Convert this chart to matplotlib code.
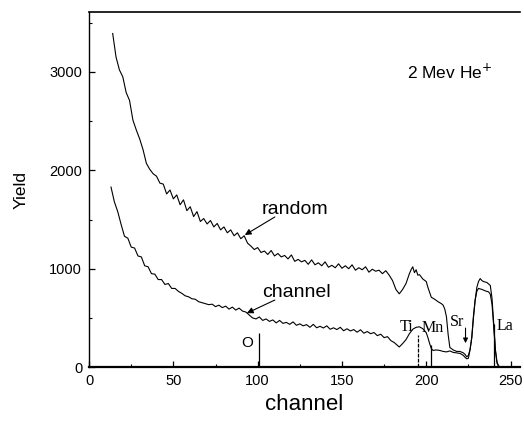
import matplotlib
matplotlib.use("Agg")
import matplotlib.pyplot as plt
from matplotlib.ticker import MultipleLocator

plt.rcParams['font.family'] = ['Liberation Sans', 'DejaVu Sans']

# ---- data ----
random_ch = [14, 16, 18, 20, 22, 24, 26, 28, 30, 32, 34, 36, 38, 40, 42, 44, 46, 48, 50,
             52, 54, 56, 58, 60, 62, 64, 66, 68, 70, 72, 74, 76, 78, 80, 82, 84, 86, 88,
             90, 92, 94, 96, 98, 100, 102, 104, 106, 108, 110, 112, 114, 116, 118, 120,
             122, 124, 126, 128, 130, 132, 134, 136, 138, 140, 142, 144, 146, 148, 150,
             152, 154, 156, 158, 160, 162, 164, 166, 168, 170, 172, 174, 176, 178, 180,
             182, 184, 186, 188, 190, 191, 192, 193, 194, 195, 196, 198, 200, 201, 202,
             203, 205, 207, 209, 210, 211, 212, 213, 214, 216, 218, 220, 222, 223, 224,
             225, 226, 227, 228, 229, 230, 231, 232, 233, 234, 236, 238, 239, 240, 241,
             242, 243, 245]
random_yield = [3390, 3150, 3020, 2950, 2790, 2710, 2510, 2410, 2320, 2210, 2070, 2010,
                1965, 1940, 1870, 1860, 1760, 1800, 1710, 1750, 1650, 1700, 1590, 1630,
                1530, 1580, 1480, 1510, 1455, 1490, 1425, 1460, 1395, 1425, 1365, 1395,
                1335, 1365, 1305, 1335, 1260, 1230, 1195, 1215, 1165, 1180, 1145, 1185,
                1130, 1155, 1120, 1135, 1100, 1140, 1075, 1095, 1070, 1085, 1045, 1090,
                1040, 1060, 1030, 1070, 1015, 1035, 1010, 1050, 1005, 1030, 1000, 1040,
                985, 1010, 990, 1020, 965, 995, 975, 985, 950, 980, 935, 880, 790, 745,
                790, 850, 950, 990, 1020, 960, 990, 935, 940, 895, 870, 810, 760, 710,
                690, 665, 645, 630, 590, 510, 330, 200, 175, 160, 160, 145, 130, 105, 120,
                180, 300, 500, 680, 810, 870, 900, 880, 870, 860, 830, 700, 450, 180, 50,
                10, 0]

chan_ch = [13, 15, 17, 19, 21, 23, 25, 27, 29, 31, 33, 35, 37, 39, 41, 43, 45, 47, 49, 51,
           53, 55, 57, 59, 61, 63, 65, 67, 69, 71, 73, 75, 77, 79, 81, 83, 85, 87, 89, 91,
           93, 95, 97, 99, 101, 103, 105, 107, 109, 111, 113, 115, 117, 119, 121, 123,
           125, 127, 129, 131, 133, 135, 137, 139, 141, 143, 145, 147, 149, 151, 153,
           155, 157, 159, 161, 163, 165, 167, 169, 171, 173, 175, 177, 179, 181, 183,
           184, 186, 188, 190, 192, 194, 196, 198, 200, 201, 202, 203, 204, 206, 208,
           210, 212, 214, 216, 218, 220, 222, 223, 224, 225, 226, 227, 228, 229, 230,
           231, 233, 235, 237, 238, 239, 240, 241, 242, 243, 245]
chan_yield = [1830, 1680, 1580, 1450, 1330, 1310, 1220, 1210, 1130, 1120, 1030, 1020, 950,
              945, 890, 890, 840, 850, 800, 800, 770, 750, 725, 715, 695, 690, 665, 655,
              645, 635, 640, 615, 630, 605, 620, 590, 610, 580, 600, 570, 560, 530, 500,
              490, 510, 475, 490, 465, 480, 450, 475, 445, 455, 435, 460, 425, 440, 420,
              432, 405, 435, 400, 415, 398, 420, 385, 400, 382, 405, 370, 390, 368, 382,
              355, 380, 345, 362, 340, 352, 320, 335, 300, 310, 270, 250, 220, 205, 240,
              280, 340, 385, 405, 410, 390, 350, 300, 240, 190, 170, 175, 170, 160, 155,
              165, 150, 145, 140, 120, 100, 85, 90, 180, 300, 520, 680, 770, 800, 790,
              775, 765, 740, 640, 420, 170, 40, 5, 0]

# element markers
element_labels = ['O', 'Ti', 'Mn', 'Sr', 'La']
element_ch = [101, 195, 203, 223.3, 240]
element_top = [346, 325, 224, 397, 440]
label_ch = [94, 188.5, 204, 218, 246.5]
label_y = [244, 407, 397, 458, 417]

# curve-label arrows: (tail, head) in data units
random_arrow = [(110.2, 1526), (92.4, 1343)]
channel_arrow = [(110.2, 682), (93.6, 549)]

x_ticks = [0, 50, 100, 150, 200, 250]
y_ticks = [0, 1000, 2000, 3000]

# ---- figure ----
fig = plt.figure(figsize=(5.24, 4.23), dpi=100)
ax = fig.add_axes([0.170, 0.132, 0.822, 0.840])

ax.plot(random_ch, random_yield, color='black', lw=0.8)
ax.plot(chan_ch, chan_yield, color='black', lw=0.8)

# vertical marker lines (O, Ti dashed, Mn, La)
ax.vlines(element_ch[0], 0, element_top[0], color='black', lw=0.9)
ax.vlines(element_ch[1], 0, element_top[1], color='black', lw=0.9, linestyles=(0, (3, 1)))
ax.vlines(element_ch[2], 0, element_top[2], color='black', lw=0.9)
ax.vlines(element_ch[4], 0, element_top[4], color='black', lw=0.9)
# Sr arrow
ax.annotate('', xy=(element_ch[3], 244), xytext=(element_ch[3], element_top[3]),
            arrowprops=dict(arrowstyle='-|>', color='black', lw=0.8, mutation_scale=7,
                            shrinkA=0, shrinkB=0))

for lab, cx, cy in zip(element_labels, label_ch, label_y):
    if lab == 'O':
        ax.text(cx, cy, lab, ha='center', va='center', fontsize=11)
    else:
        ax.text(cx, cy, lab, ha='center', va='center', fontsize=11.5,
                family=['Liberation Serif', 'DejaVu Serif'])

# curve labels with arrows
ax.text(122, 1597, 'random', ha='center', va='center', fontsize=14)
ax.text(123, 763, 'channel', ha='center', va='center', fontsize=14)
for tail, head in (random_arrow, channel_arrow):
    ax.annotate('', xy=head, xytext=tail,
                arrowprops=dict(arrowstyle='-|>', color='black', lw=0.8, mutation_scale=9,
                                shrinkA=0, shrinkB=0))

ax.text(214, 3000, '2 Mev He$^{+}$', ha='center', va='center', fontsize=12.5)

ax.set_xlim(0, 255.5)
ax.set_ylim(0, 3610)
ax.set_xticks(x_ticks)
ax.set_yticks(y_ticks)
ax.xaxis.set_minor_locator(MultipleLocator(25))
ax.yaxis.set_minor_locator(MultipleLocator(500))
ax.tick_params(which='major', direction='in', length=4, width=0.9, labelsize=10.5, pad=5)
ax.tick_params(which='minor', direction='in', length=2.5, width=0.8)

ax.spines['right'].set_visible(False)
ax.spines['bottom'].set_linewidth(1.6)
ax.spines['left'].set_linewidth(1.0)
ax.spines['top'].set_linewidth(1.2)

ax.set_xlabel('channel', fontsize=16, labelpad=4)
ax.set_ylabel('Yield', fontsize=12.5, labelpad=15)

fig.savefig('out.png', dpi=100)
